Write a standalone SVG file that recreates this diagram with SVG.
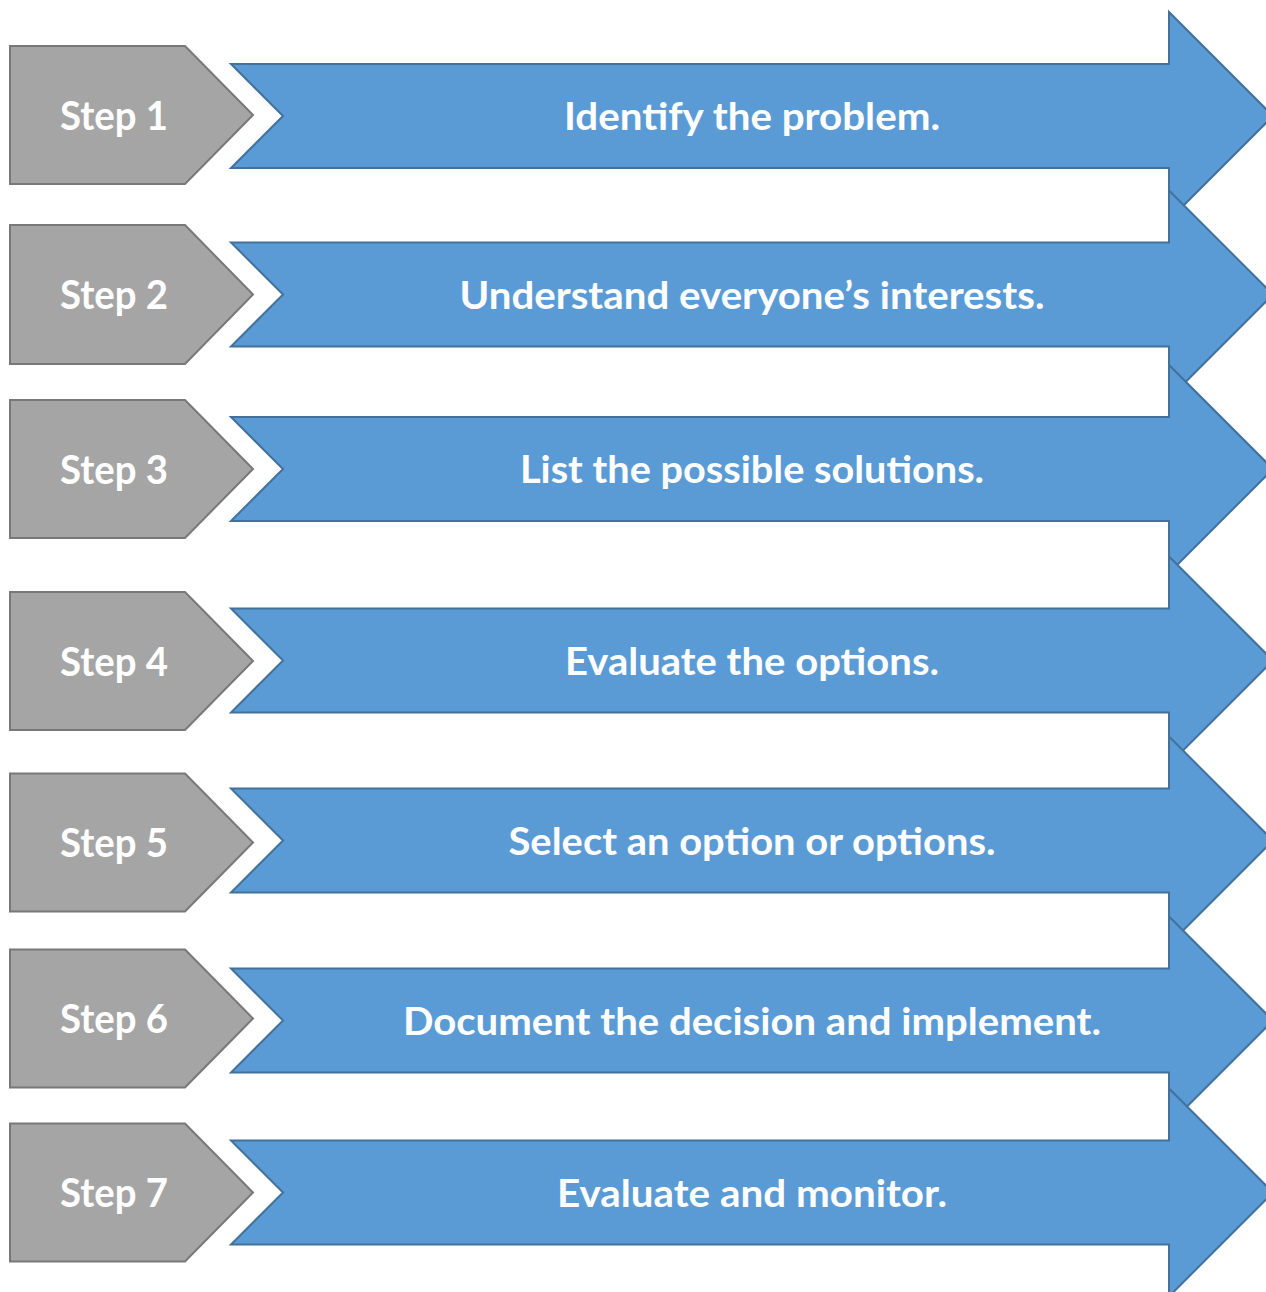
<svg xmlns="http://www.w3.org/2000/svg" width="1266" height="1292" viewBox="0 0 1266 1292">
  <style>
    .tag { fill: #A5A5A5; stroke: #787878; stroke-width: 2; stroke-linejoin: miter; }
    .arrow { fill: #5B9BD5; stroke: #41719C; stroke-width: 2; stroke-linejoin: miter; }
    .tag-text { fill: #FFFFFF; font-family: Lato, "Open Sans", "Liberation Sans", sans-serif; font-weight: bold; font-size: 40px; text-anchor: middle; }
    .arrow-text { fill: #FFFFFF; font-family: Lato, "Open Sans", "Liberation Sans", sans-serif; font-weight: bold; font-size: 38px; text-anchor: middle; }
  </style>
  <rect width="1266" height="1292" fill="#FFFFFF"/>

  <!-- Step 1 -->
  <g id="step1">
    <polygon class="tag" points="10,46 185,46 253,115 185,184 10,184"/>
    <text class="tag-text" x="114" y="129.5" textLength="108" lengthAdjust="spacingAndGlyphs">Step 1</text>
    <polygon class="arrow" points="231,64 1169,64 1169,12 1273,116 1169,220 1169,168 231,168 283,116"/>
    <text class="arrow-text" x="752" y="130" textLength="376" lengthAdjust="spacingAndGlyphs">Identify the problem.</text>
  </g>

  <!-- Step 2 -->
  <g id="step2">
    <polygon class="tag" points="10,225 185,225 253,294.5 185,364 10,364"/>
    <text class="tag-text" x="114" y="309" textLength="108" lengthAdjust="spacingAndGlyphs">Step 2</text>
    <polygon class="arrow" points="231,242.5 1169,242.5 1169,190.5 1273,294.5 1169,398.5 1169,346.5 231,346.5 283,294.5"/>
    <text class="arrow-text" x="752" y="308.5" textLength="585" lengthAdjust="spacingAndGlyphs">Understand everyone’s interests.</text>
  </g>

  <!-- Step 3 -->
  <g id="step3">
    <polygon class="tag" points="10,400 185,400 253,469 185,538 10,538"/>
    <text class="tag-text" x="114" y="483.5" textLength="108" lengthAdjust="spacingAndGlyphs">Step 3</text>
    <polygon class="arrow" points="231,417 1169,417 1169,365 1273,469 1169,573 1169,521 231,521 283,469"/>
    <text class="arrow-text" x="752" y="483" textLength="464" lengthAdjust="spacingAndGlyphs">List the possible solutions.</text>
  </g>

  <!-- Step 4 -->
  <g id="step4">
    <polygon class="tag" points="10,592 185,592 253,661 185,730 10,730"/>
    <text class="tag-text" x="114" y="675.5" textLength="108" lengthAdjust="spacingAndGlyphs">Step 4</text>
    <polygon class="arrow" points="231,608.5 1169,608.5 1169,556.5 1273,660.5 1169,764.5 1169,712.5 231,712.5 283,660.5"/>
    <text class="arrow-text" x="752" y="674.5" textLength="374" lengthAdjust="spacingAndGlyphs">Evaluate the options.</text>
  </g>

  <!-- Step 5 -->
  <g id="step5">
    <polygon class="tag" points="10,773.5 185,773.5 253,842.5 185,911.5 10,911.5"/>
    <text class="tag-text" x="114" y="857" textLength="108" lengthAdjust="spacingAndGlyphs">Step 5</text>
    <polygon class="arrow" points="231,788.5 1169,788.5 1169,736.5 1273,840.5 1169,944.5 1169,892.5 231,892.5 283,840.5"/>
    <text class="arrow-text" x="752" y="854.5" textLength="487" lengthAdjust="spacingAndGlyphs">Select an option or options.</text>
  </g>

  <!-- Step 6 -->
  <g id="step6">
    <polygon class="tag" points="10,949.5 185,949.5 253,1018.5 185,1087.5 10,1087.5"/>
    <text class="tag-text" x="114" y="1033" textLength="108" lengthAdjust="spacingAndGlyphs">Step 6</text>
    <polygon class="arrow" points="231,968.5 1169,968.5 1169,916.5 1273,1020.5 1169,1124.5 1169,1072.5 231,1072.5 283,1020.5"/>
    <text class="arrow-text" x="752" y="1034.5" textLength="698" lengthAdjust="spacingAndGlyphs">Document the decision and implement.</text>
  </g>

  <!-- Step 7 -->
  <g id="step7">
    <polygon class="tag" points="10,1123.5 185,1123.5 253,1192.5 185,1261.5 10,1261.5"/>
    <text class="tag-text" x="114" y="1207" textLength="108" lengthAdjust="spacingAndGlyphs">Step 7</text>
    <polygon class="arrow" points="231,1140.5 1169,1140.5 1169,1088.5 1273,1192.5 1169,1296.5 1169,1244.5 231,1244.5 283,1192.5"/>
    <text class="arrow-text" x="752" y="1206.5" textLength="390" lengthAdjust="spacingAndGlyphs">Evaluate and monitor.</text>
  </g>

  <!-- no separate connectors: the arrows themselves carry the flow -->
  <g id="connectors"/>
</svg>
